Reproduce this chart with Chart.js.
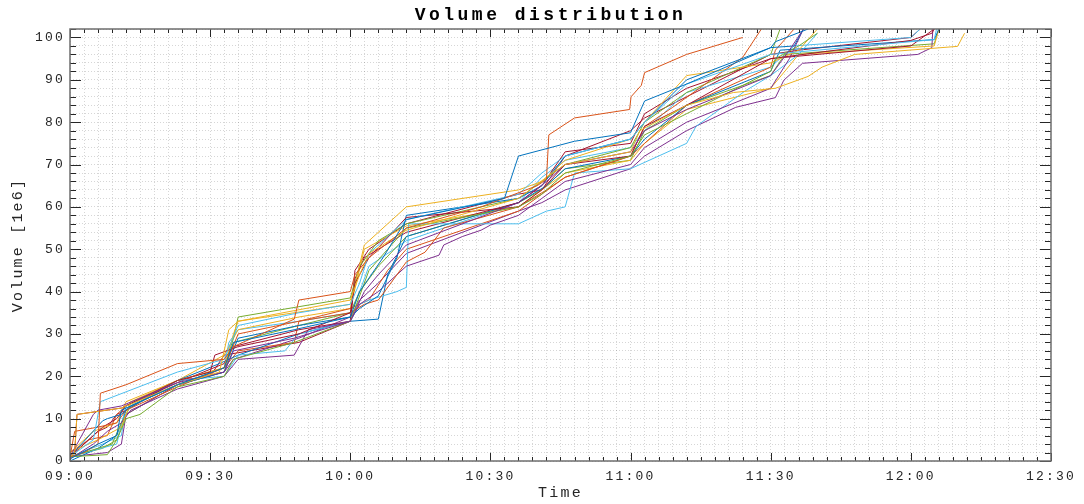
<!DOCTYPE html>
<html>
<head>
<meta charset="utf-8">
<title>Volume distribution</title>
<script src="https://cdn.jsdelivr.net/npm/chart.js@4.4.1/dist/chart.umd.min.js"></script>
<style>
  html, body { margin: 0; padding: 0; background: #fff; }
</style>
</head>
<body>
<canvas id="volChart" width="1084" height="504"></canvas>
<script>
// cumulative volume (1e6) per run, points are [minutes after 09:00, volume]
const s01 = [[0,0.5],[6,4],[10,6],[11,12],[23,18],[33,22],[35,28],[48,31],[60,34],[62,40],[67,48],[72,57],[93,62],[96,72],[108,75.5],[120,77.5],[123,85],[132,89],[150,97.6],[151,99],[158,102]];
const s02 = [[0,1],[3,2],[6,4],[6.5,16],[12,18],[23,23],[33,24],[35,27],[48,33.5],[49,38],[60,40],[61,44],[64,48],[72,55],[88,60],[100,65],[102,66.5],[102.5,77],[108,81],[119.8,83],[120.1,86],[122.3,88.7],[123,91.7],[132,96],[144,100]];
const s03 = [[0,1],[1,2],[1.5,11],[11,12.5],[23,18],[32,21],[34,31],[36,33],[60,38],[62,44],[64,49],[72,54.5],[96,62],[102,67],[106,70],[120,73],[122,78],[132,84],[142,87],[151,88],[158,90.8],[161,93],[168,96],[190,97.9],[191.5,101]];
const s04 = [[0,1],[5,11],[6,12],[11,13],[23,18.5],[33,21],[35,26],[48,29],[60,33],[63,40],[66,44],[72,51],[96,61],[102,66],[106,70],[120,73],[123,78],[132,83],[150,91],[154,97],[157,102]];
const s05 = [[0,1],[8,1.5],[10,5],[12,10],[15,11],[23,17.5],[33,20],[35,24],[48,28],[60,33],[64,45],[68,50],[72,55],[96,60],[101,63],[106,68],[120,72],[123,77],[132,82],[150,92],[151,95],[156,98],[160,101]];
const s06 = [[0,1],[5,5],[6.5,14],[23,21],[33,24],[36,32],[49,35],[60,37],[62,42],[64,49],[72,57],[96,63],[101,68],[106,72],[120,76],[123,80],[132,89],[150,96],[185,99.5],[185.5,102]];
const s07 = [[0,1],[1,2],[1.5,11],[11,12.5],[23,19],[30,21],[31,25],[36,27],[49,30],[60,35],[61,42],[64,48],[72,57.5],[96,60],[101,64],[106,70],[120,72],[123,79],[132,84],[150,95],[180,99.3],[184.5,101],[185,102]];
const s08 = [[0,1],[7,9.5],[8,10],[11,11],[13,13],[23,18],[33,21],[36,29],[49,32],[60,34],[62,36],[66,39],[70,48],[72,58],[96,62],[101,65],[106,72],[120,76],[123,80],[132,90],[150,97.6],[155,98],[157,102]];
const s09 = [[0,1],[1,7],[6,8],[10,9],[12,12],[23,17.5],[33,22],[36,30],[49,33],[60,35],[63,37],[66,38],[72,47],[76,49.3],[80,55],[96,60],[102,64],[106,67],[120,72],[123,79],[129,83.5],[144,95.3],[148,102]];
const s10 = [[0,2],[6,5],[11,8],[13,14],[23,19],[33,22],[35,30],[36,33],[60,37],[63,51],[72,60],[96,64],[101,66],[106,71],[120,76],[123,80],[132,91],[150,94],[156,97],[160,102]];
const s11 = [[0,0.5],[5,4],[8,7],[11,9],[13,12],[23,17],[33,20],[36,24],[48,25],[51,31],[60,33],[62,37],[66,40],[70,44],[72,46],[79,48.6],[80,51],[82,52],[84,53],[88,54.5],[90,55.7],[96,58],[101,62],[106,66],[120,70],[123,74],[132,80],[150,88],[154,95],[157,102]];
const s12 = [[0,1],[9,4],[11,9],[13,13],[23,18],[33,22],[35,29],[36,34],[60,38.5],[62,46],[66,52],[72,56],[96,62],[101,66],[106,70],[120,74],[123,80],[132,87],[150,96],[151,99],[152,102]];
const s13 = [[0,1],[10,4],[12,13],[23,19],[33,20],[36,25],[46,26],[49,30],[60,33],[62,37],[64,38],[70,40],[72,41],[72.5,56],[96,56],[102,59],[106,60],[108,68],[120,69],[132,75],[134,79],[144.7,87.5],[150,91],[156,96],[160,101]];
const s14 = [[0,1],[4,5],[7,8],[10,10],[12,13],[23,18.5],[33,23],[35,27],[49,31],[60,33],[61,43],[63,48],[72,54],[96,61],[101,65],[106,73],[120,75],[123,82],[132,88],[150,95],[180,98],[185,102]];
const s15 = [[0,0],[6,3],[10,6],[12,12],[23,19],[32,23],[36,25],[49,30],[60,33],[66,33.5],[68,44],[72,53],[96,61],[102,65],[106,69],[120,72],[123,76],[132,84],[150,92],[152,97],[185,99.5],[186,102]];
const s16 = [[0,2],[4,5],[8,6],[10,11],[12,13],[23,19],[33,22],[36,26],[48,28],[49,33],[60,36],[64,38],[68,45],[72,50],[96,59],[101,63],[106,67],[120,72],[123,75],[132,84],[150,93],[151,97],[155,102]];
const s17 = [[0,2],[5,7],[10,9],[12,14],[23,19],[33,25],[36,31],[49,34],[60,36],[63,50],[72,55.5],[96,60],[101,64],[106,68],[120,71],[123,75],[132,83],[150,88],[156,96],[185,98],[186,102]];
const s18 = [[0,1],[8,2],[11,4],[12,11],[23,18],[33,21],[35,24],[49,29],[60,34],[62,38],[66,42],[72,49],[96,59],[101,61],[106,64],[120,69],[123,72],[132,78],[142.5,83.5],[151,85.8],[152.8,89.9],[156.8,93.9],[181.5,96],[184.5,97.6],[184.7,102]];
const s19 = [[0,1],[7,3],[10,5],[12,11],[23,18],[33,21],[35,28],[49,32],[60,35],[62,40],[66,46],[72,53],[96,61],[101,64],[106,69],[120,71],[123,78],[132,84],[150,91],[153,96],[185,98.5],[186,102]];
const s20 = [[0,1],[7,4],[11,6],[12,13],[23,18],[33,22],[34,28],[36,31],[49,33],[60,35],[62,40],[64,46],[72,52],[96,61],[101,67],[106,71],[120,74],[123,78],[132,87],[150,93],[155,98],[180,100],[182,102]];
const s21 = [[0,1],[3,4],[6,7],[8,8],[10,11],[12,12],[23,19],[30,20],[33,25],[49,28],[60,33],[61,45],[64,50],[72,56],[96,63],[101,64],[106,72],[120,78],[123,81],[132,86],[150,96],[156,97],[180,100],[182,102]];

const runs = [s01, s02, s03, s04, s05, s06, s07, s08, s09, s10, s11, s12, s13, s14, s15, s16, s17, s18, s19, s20, s21];
const palette = ['#0072BD', '#D95319', '#EDB120', '#7E2F8E', '#77AC30', '#4DBEEE', '#A2142F'];

const xRange = [0, 210];      // 09:00 .. 12:30
const yRange = [0, 102];
const startHour = 9;

function clockLabel(min) {
  const h = startHour + Math.floor(min / 60);
  const m = min % 60;
  return String(h).padStart(2, '0') + ':' + String(m).padStart(2, '0');
}

const axisInk = '#262626';
const monoFont = "'Liberation Mono', 'DejaVu Sans Mono', monospace";

// wider letter spacing for all canvas text
const spacing = {
  id: 'spacing',
  beforeUpdate(chart) { chart.ctx.letterSpacing = '2.2px'; },
  beforeDraw(chart) { chart.ctx.letterSpacing = '2.2px'; }
};

// box around the axes plus inward tick marks on all four sides
const boxTicks = {
  id: 'boxTicks',
  afterDraw(chart) {
    const { ctx, chartArea: a, scales: { x, y } } = chart;
    ctx.save();
    ctx.strokeStyle = axisInk;
    ctx.lineWidth = 1;
    ctx.beginPath();
    x.ticks.forEach(t => {
      const px = Math.round(x.getPixelForValue(t.value)) + 0.5;
      const len = t.value % 30 === 0 ? 8 : 4;
      ctx.moveTo(px, a.bottom); ctx.lineTo(px, a.bottom - len);
      ctx.moveTo(px, a.top); ctx.lineTo(px, a.top + len);
    });
    y.ticks.forEach(t => {
      const py = Math.round(y.getPixelForValue(t.value)) + 0.5;
      const len = t.value % 10 === 0 ? 11 : 6;
      ctx.moveTo(a.left, py); ctx.lineTo(a.left + len, py);
      ctx.moveTo(a.right, py); ctx.lineTo(a.right - len, py);
    });
    ctx.stroke();
    ctx.strokeStyle = '#6e6e6e';
    ctx.lineWidth = 1.5;
    ctx.strokeRect(a.left, a.top, a.right - a.left, a.bottom - a.top);
    ctx.restore();
  }
};

const datasets = runs.map((run, i) => ({
  label: 'run ' + (i + 1),
  data: run.map(([m, v]) => ({ x: m, y: v })),
  borderColor: palette[i % palette.length],
  backgroundColor: palette[i % palette.length],
  borderWidth: 1,
  pointRadius: 0,
  tension: 0,
  fill: false
}));

const chart = new Chart(document.getElementById('volChart').getContext('2d'), {
  type: 'line',
  data: { datasets },
  plugins: [spacing, boxTicks],
  options: {
    responsive: false,
    animation: false,
    devicePixelRatio: 1,
    layout: { padding: { left: 0, right: 27, top: 0, bottom: 0 } },
    plugins: {
      legend: { display: false },
      tooltip: { enabled: false },
      title: {
        display: true,
        text: 'Volume distribution',
        color: '#000',
        font: { family: monoFont, size: 18, weight: 'bold', lineHeight: 1 },
        padding: { top: 6, bottom: 5 }
      }
    },
    scales: {
      x: {
        type: 'linear',
        min: xRange[0],
        max: xRange[1],
        afterFit(s) { s.height = 43; },
        ticks: {
          stepSize: 3,
          maxTicksLimit: 1000,
          autoSkip: false,
          maxRotation: 0,
          padding: 8,
          color: axisInk,
          font: { family: monoFont, size: 13 },
          callback: v => (v % 30 === 0 ? clockLabel(v) : '')
        },
        grid: { color: 'rgba(0,0,0,0.16)', lineWidth: 1, drawTicks: false },
        border: { display: false, dash: [1, 2] },
        title: {
          display: true,
          text: 'Time',
          color: axisInk,
          font: { family: monoFont, size: 15 },
          padding: { top: 0, bottom: 2 }
        }
      },
      y: {
        type: 'linear',
        min: yRange[0],
        max: yRange[1],
        afterFit(s) { s.width = 70; },
        ticks: {
          stepSize: 2,
          maxTicksLimit: 1000,
          autoSkip: false,
          padding: 5,
          color: axisInk,
          font: { family: monoFont, size: 13 },
          callback: v => (v % 10 === 0 ? String(v) : '')
        },
        grid: { color: 'rgba(0,0,0,0.16)', lineWidth: 1, drawTicks: false },
        border: { display: false, dash: [1, 2] },
        title: {
          display: true,
          text: 'Volume [1e6]',
          color: axisInk,
          font: { family: monoFont, size: 15 },
          padding: { top: 9, bottom: 0 }
        }
      }
    }
  }
});

// the title gets its own, wider letter spacing and sits over the plot area
const tb = chart.titleBlock;
const drawTitle = tb.draw.bind(tb);
tb.draw = function () {
  const c = this.ctx;
  const prev = c.letterSpacing;
  c.save();
  c.translate(22, 0);
  c.letterSpacing = '3.5px';
  drawTitle();
  c.restore();
  c.letterSpacing = prev;
};
chart.draw();
</script>
</body>
</html>
